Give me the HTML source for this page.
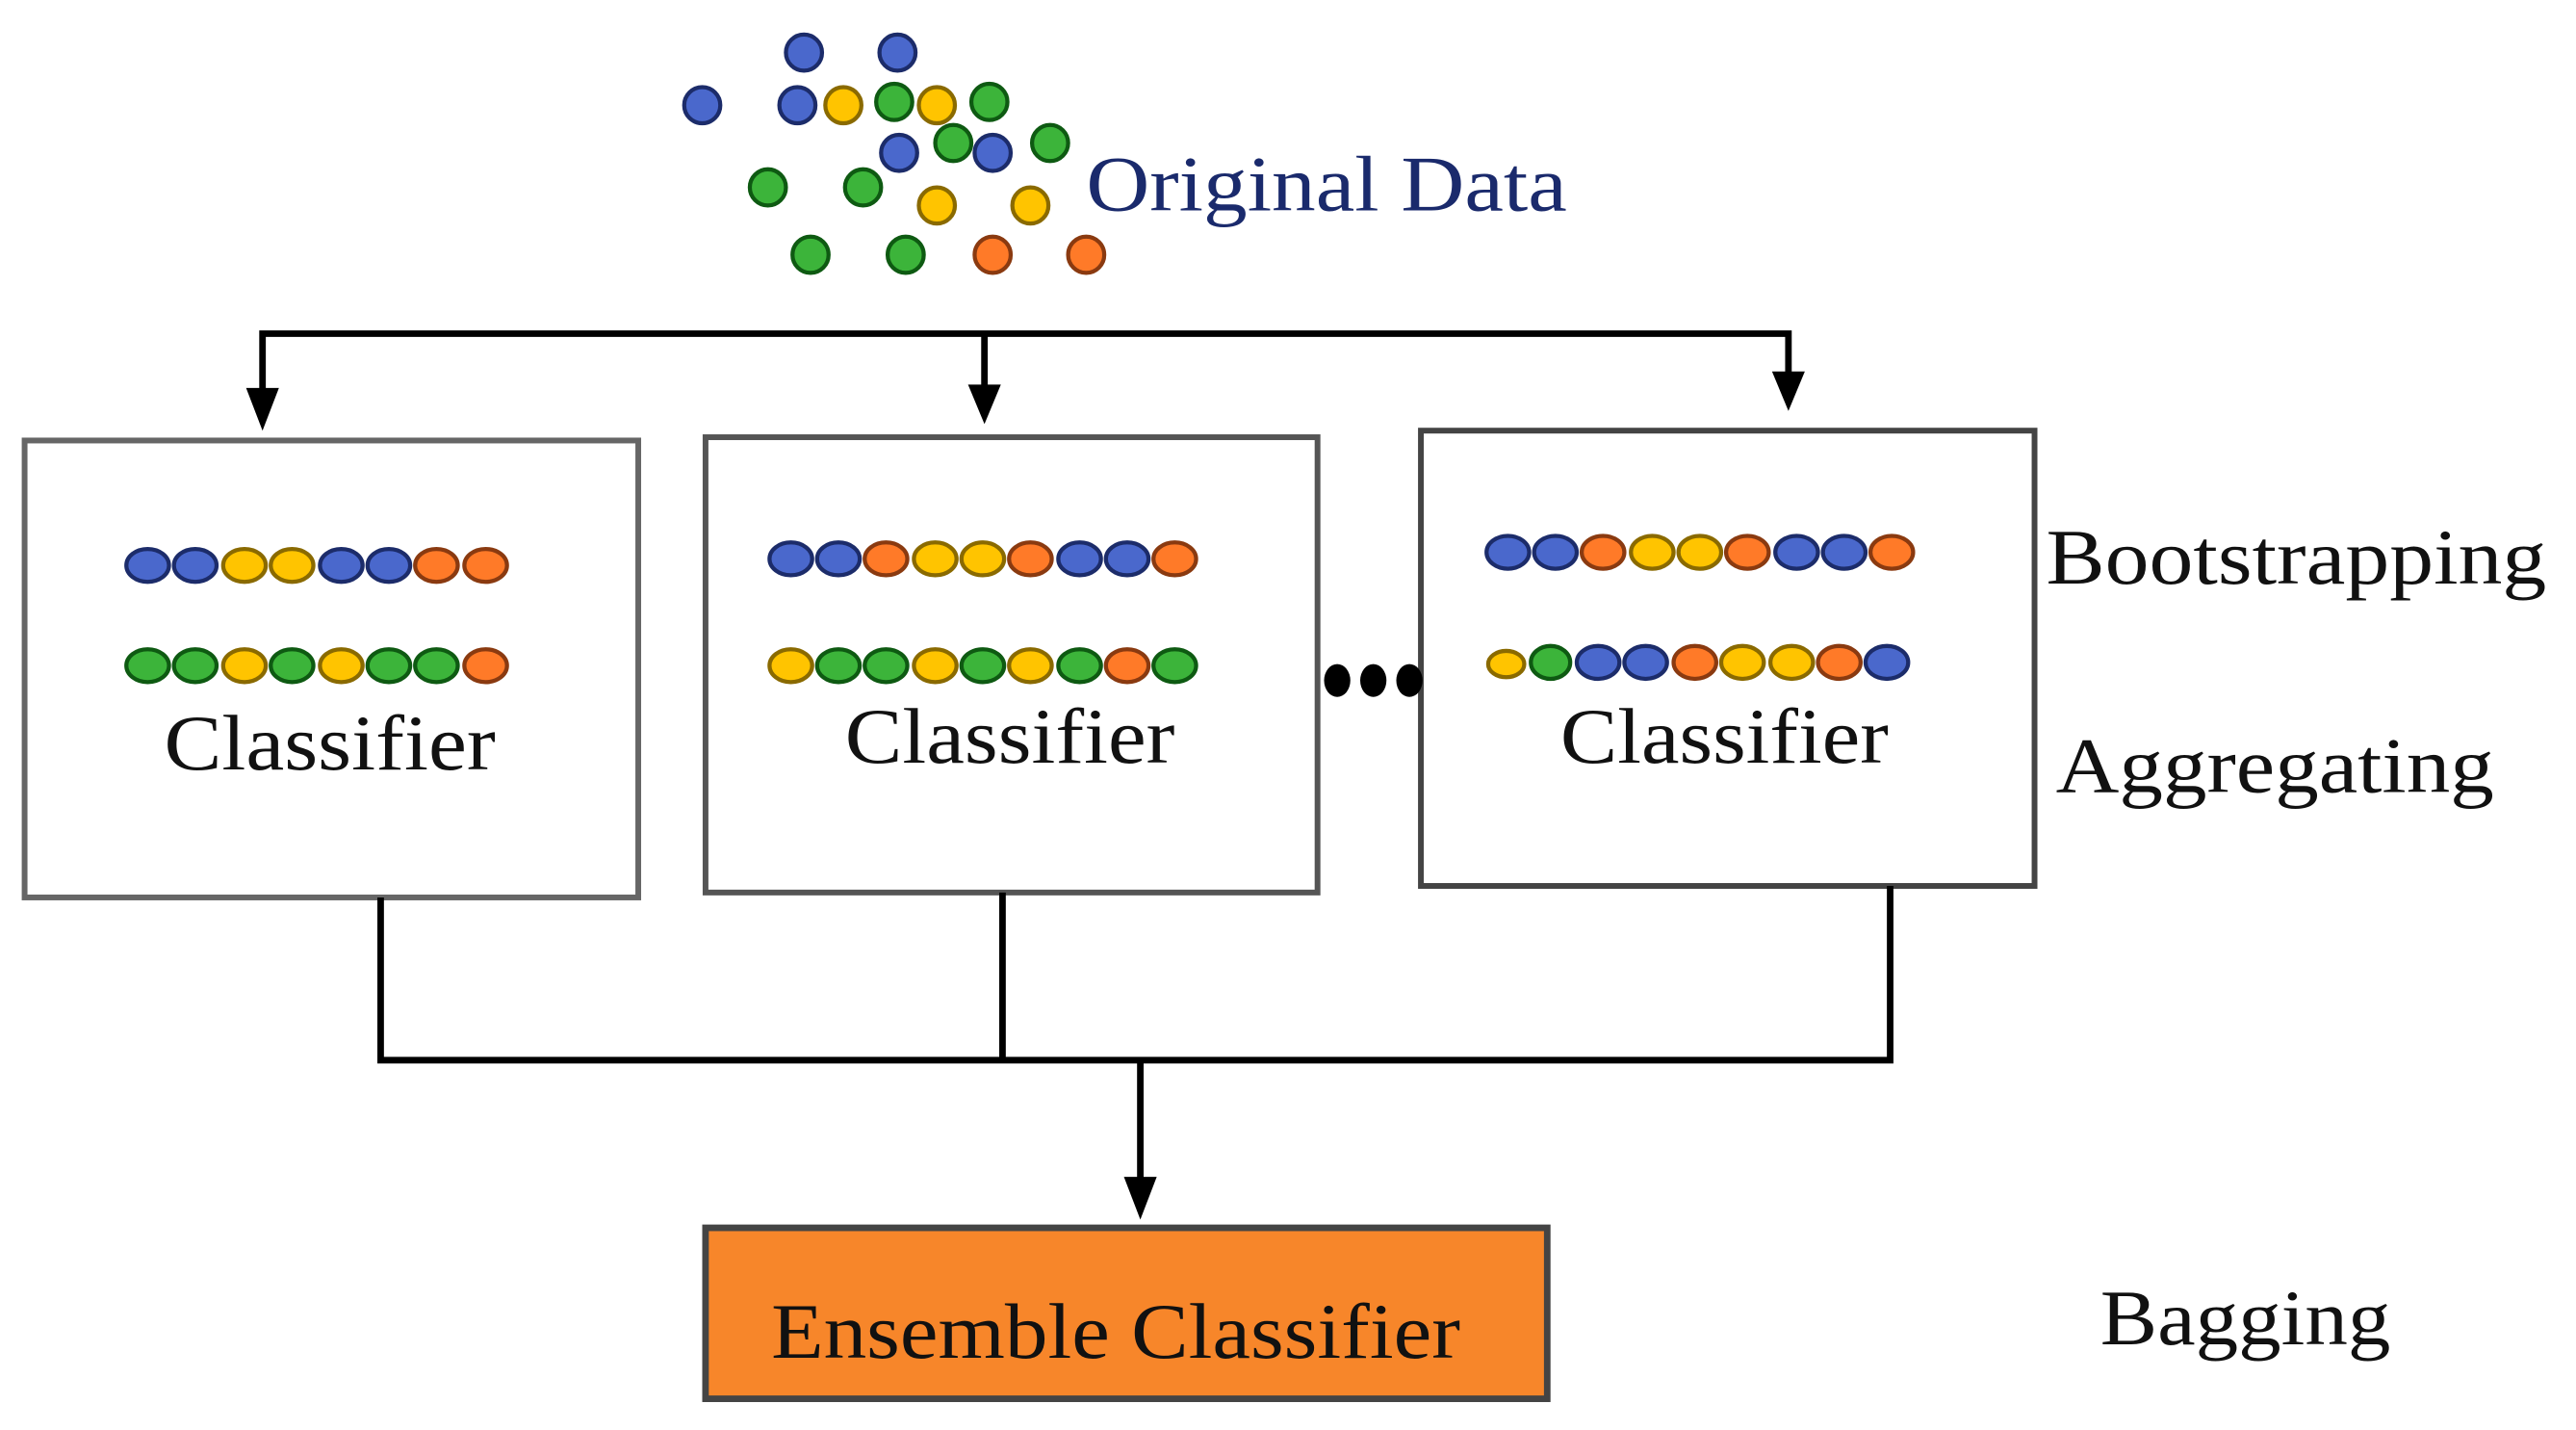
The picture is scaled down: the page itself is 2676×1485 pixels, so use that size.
<!DOCTYPE html>
<html><head><meta charset="utf-8"><style>html,body{margin:0;padding:0;background:#fff}svg{display:block}</style></head>
<body>
<svg width="2676" height="1485" viewBox="0 0 1570 870" preserveAspectRatio="none" xmlns="http://www.w3.org/2000/svg">
<defs>
<style>
.b{fill:#4a68cc;stroke:#1c2c6a;stroke-width:2.5}
.y{fill:#ffc400;stroke:#8a6a00;stroke-width:2.5}
.g{fill:#3cb43a;stroke:#0e5a12;stroke-width:2.5}
.o{fill:#ff7a28;stroke:#8a3a10;stroke-width:2.5}
text{font-family:"Liberation Serif",serif;font-size:48px}
</style>
</defs>
<g>
<ellipse class="b" cx="490" cy="32" rx="11" ry="11"/>
<ellipse class="b" cx="547" cy="32" rx="11" ry="11"/>
<ellipse class="b" cx="428" cy="64" rx="11" ry="11"/>
<ellipse class="b" cx="486" cy="64" rx="11" ry="11"/>
<ellipse class="y" cx="514" cy="64" rx="11" ry="11"/>
<ellipse class="g" cx="545" cy="62" rx="11" ry="11"/>
<ellipse class="y" cx="571" cy="64" rx="11" ry="11"/>
<ellipse class="g" cx="603" cy="62" rx="11" ry="11"/>
<ellipse class="b" cx="548" cy="93" rx="11" ry="11"/>
<ellipse class="g" cx="581" cy="87" rx="11" ry="11"/>
<ellipse class="b" cx="605" cy="93" rx="11" ry="11"/>
<ellipse class="g" cx="640" cy="87" rx="11" ry="11"/>
<ellipse class="g" cx="468" cy="114" rx="11" ry="11"/>
<ellipse class="g" cx="526" cy="114" rx="11" ry="11"/>
<ellipse class="y" cx="571" cy="125" rx="11" ry="11"/>
<ellipse class="y" cx="628" cy="125" rx="11" ry="11"/>
<ellipse class="g" cx="494" cy="155" rx="11" ry="11"/>
<ellipse class="g" cx="552" cy="155" rx="11" ry="11"/>
<ellipse class="o" cx="605" cy="155" rx="11" ry="11"/>
<ellipse class="o" cx="662" cy="155" rx="11" ry="11"/>
</g>
<text x="662" y="128" fill="#1a2a6c" textLength="293" lengthAdjust="spacingAndGlyphs">Original Data</text>

<g stroke="#000" stroke-width="4" fill="none">
<polyline points="160,252 160,203 1090,203 1090,240"/>
<line x1="600" y1="203" x2="600" y2="246"/>
</g>
<g fill="#000">
<polygon points="150,236 170,236 160,262"/>
<polygon points="590,234 610,234 600,258"/>
<polygon points="1080,226 1100,226 1090,250"/>
</g>

<rect x="15" y="268" width="374" height="278" fill="#fff" stroke="#666" stroke-width="3.5"/>
<rect x="430" y="266" width="373" height="277" fill="#fff" stroke="#555" stroke-width="3.5"/>
<rect x="866" y="262" width="374" height="277" fill="#fff" stroke="#444" stroke-width="3.5"/>

<g>
<ellipse class="b" cx="90" cy="344" rx="13" ry="10"/><ellipse class="b" cx="119" cy="344" rx="13" ry="10"/><ellipse class="y" cx="149" cy="344" rx="13" ry="10"/><ellipse class="y" cx="178" cy="344" rx="13" ry="10"/><ellipse class="b" cx="208" cy="344" rx="13" ry="10"/><ellipse class="b" cx="237" cy="344" rx="13" ry="10"/><ellipse class="o" cx="266" cy="344" rx="13" ry="10"/><ellipse class="o" cx="296" cy="344" rx="13" ry="10"/>
<ellipse class="g" cx="90" cy="405" rx="13" ry="10"/><ellipse class="g" cx="119" cy="405" rx="13" ry="10"/><ellipse class="y" cx="149" cy="405" rx="13" ry="10"/><ellipse class="g" cx="178" cy="405" rx="13" ry="10"/><ellipse class="y" cx="208" cy="405" rx="13" ry="10"/><ellipse class="g" cx="237" cy="405" rx="13" ry="10"/><ellipse class="g" cx="266" cy="405" rx="13" ry="10"/><ellipse class="o" cx="296" cy="405" rx="13" ry="10"/>
</g>
<g>
<ellipse class="b" cx="482" cy="340" rx="13" ry="10"/><ellipse class="b" cx="511" cy="340" rx="13" ry="10"/><ellipse class="o" cx="540" cy="340" rx="13" ry="10"/><ellipse class="y" cx="570" cy="340" rx="13" ry="10"/><ellipse class="y" cx="599" cy="340" rx="13" ry="10"/><ellipse class="o" cx="628" cy="340" rx="13" ry="10"/><ellipse class="b" cx="658" cy="340" rx="13" ry="10"/><ellipse class="b" cx="687" cy="340" rx="13" ry="10"/><ellipse class="o" cx="716" cy="340" rx="13" ry="10"/>
<ellipse class="y" cx="482" cy="405" rx="13" ry="10"/><ellipse class="g" cx="511" cy="405" rx="13" ry="10"/><ellipse class="g" cx="540" cy="405" rx="13" ry="10"/><ellipse class="y" cx="570" cy="405" rx="13" ry="10"/><ellipse class="g" cx="599" cy="405" rx="13" ry="10"/><ellipse class="y" cx="628" cy="405" rx="13" ry="10"/><ellipse class="g" cx="658" cy="405" rx="13" ry="10"/><ellipse class="o" cx="687" cy="405" rx="13" ry="10"/><ellipse class="g" cx="716" cy="405" rx="13" ry="10"/>
</g>
<g>
<ellipse class="b" cx="919" cy="336" rx="13" ry="10"/><ellipse class="b" cx="948" cy="336" rx="13" ry="10"/><ellipse class="o" cx="977" cy="336" rx="13" ry="10"/><ellipse class="y" cx="1007" cy="336" rx="13" ry="10"/><ellipse class="y" cx="1036" cy="336" rx="13" ry="10"/><ellipse class="o" cx="1065" cy="336" rx="13" ry="10"/><ellipse class="b" cx="1095" cy="336" rx="13" ry="10"/><ellipse class="b" cx="1124" cy="336" rx="13" ry="10"/><ellipse class="o" cx="1153" cy="336" rx="13" ry="10"/>
<ellipse class="y" cx="918" cy="404" rx="11" ry="8"/><ellipse class="g" cx="945" cy="403" rx="12" ry="10"/><ellipse class="b" cx="974" cy="403" rx="13" ry="10"/><ellipse class="b" cx="1003" cy="403" rx="13" ry="10"/><ellipse class="o" cx="1033" cy="403" rx="13" ry="10"/><ellipse class="y" cx="1062" cy="403" rx="13" ry="10"/><ellipse class="y" cx="1092" cy="403" rx="13" ry="10"/><ellipse class="o" cx="1121" cy="403" rx="13" ry="10"/><ellipse class="b" cx="1150" cy="403" rx="13" ry="10"/>
</g>

<text x="100" y="468" fill="#111" textLength="202" lengthAdjust="spacingAndGlyphs">Classifier</text>
<text x="515" y="464" fill="#111" textLength="201" lengthAdjust="spacingAndGlyphs">Classifier</text>
<text x="951" y="464" fill="#111" textLength="200" lengthAdjust="spacingAndGlyphs">Classifier</text>

<g fill="#000">
<ellipse cx="815" cy="414" rx="8" ry="10"/><ellipse cx="837" cy="414" rx="8" ry="10"/><ellipse cx="859" cy="414" rx="8" ry="10"/>
</g>

<text x="1247" y="355" fill="#111" textLength="305" lengthAdjust="spacingAndGlyphs">Bootstrapping</text>
<text x="1253" y="482" fill="#111" textLength="267" lengthAdjust="spacingAndGlyphs">Aggregating</text>
<text x="1280" y="818" fill="#111" textLength="177" lengthAdjust="spacingAndGlyphs">Bagging</text>

<g stroke="#000" stroke-width="4" fill="none">
<polyline points="232,546 232,645 1152,645 1152,539"/>
<line x1="611" y1="543" x2="611" y2="645"/>
<line x1="695" y1="645" x2="695" y2="725"/>
</g>
<polygon points="685,716 705,716 695,742" fill="#000"/>

<rect x="430" y="747" width="513" height="104" fill="#f7862a" stroke="#444" stroke-width="4"/>
<text x="470" y="826" fill="#111" textLength="420" lengthAdjust="spacingAndGlyphs">Ensemble Classifier</text>
</svg>
</body></html>
